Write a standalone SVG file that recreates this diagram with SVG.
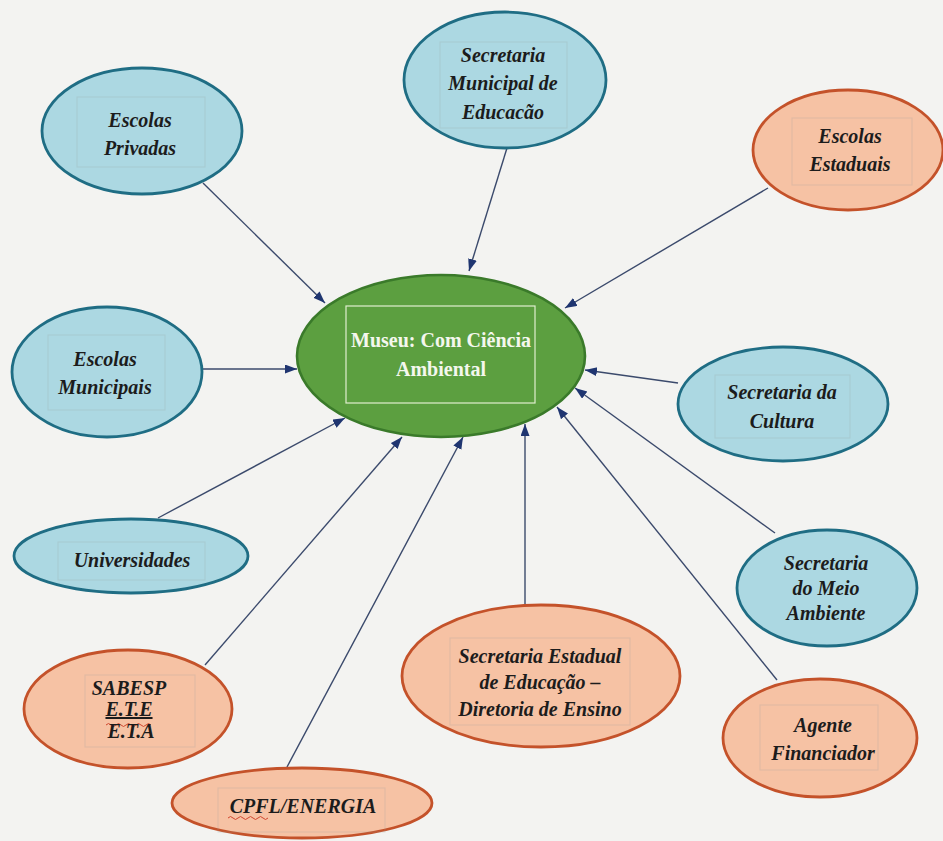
<svg xmlns="http://www.w3.org/2000/svg" width="943" height="841" viewBox="0 0 943 841">
<style>
.bg{fill:#f3f3f1}
.blue{fill:#acd8e2;stroke:#1f6d84;stroke-width:2.8}
.orange{fill:#f6c2a4;stroke:#c4522a;stroke-width:2.8}
.green{fill:#5c9f40;stroke:#3a7a2a;stroke-width:2.6}
.box{fill:none;stroke:#9aa3a0;stroke-width:1;stroke-opacity:0.25}
.cbox{fill:none;stroke:#dfeecf;stroke-width:1.2}
.t{font-family:"Liberation Serif","Times New Roman",serif;font-style:italic;font-weight:bold;font-size:20px;fill:#1c1c1c;text-anchor:middle}
.ct{font-family:"Liberation Serif","Times New Roman",serif;font-weight:bold;font-size:20px;fill:#f4f7ee;text-anchor:middle}
.conn line{stroke:#3b4a6c;stroke-width:1.4;marker-end:url(#arr)}
.sq{fill:none;stroke:#d0472f;stroke-width:1}
</style>
<defs>
<marker id="arr" markerUnits="userSpaceOnUse" markerWidth="13" markerHeight="10" refX="12" refY="4.5" orient="auto">
<path d="M0,0 L12,4.5 L0,9 z" fill="#1f3570"/>
</marker>
</defs>
<rect class="bg" x="0" y="0" width="943" height="841"/>

<g id="connectors" class="conn">
<line x1="203" y1="183" x2="325" y2="303"/>
<line x1="507" y1="148" x2="469" y2="271"/>
<line x1="768" y1="188" x2="565" y2="308"/>
<line x1="202" y1="369" x2="297" y2="369"/>
<line x1="678" y1="383" x2="585" y2="370"/>
<line x1="775" y1="533" x2="575" y2="388"/>
<line x1="777" y1="680" x2="557" y2="407"/>
<line x1="525" y1="605" x2="525" y2="424"/>
<line x1="287" y1="767" x2="463" y2="437"/>
<line x1="205" y1="665" x2="402" y2="437"/>
<line x1="158" y1="518" x2="345" y2="418"/>
</g>

<g id="museu">
<ellipse class="green" cx="441" cy="356" rx="144" ry="81"/>
<rect class="cbox" x="346" y="306" width="189" height="97"/>
<text class="ct" x="441" y="347">Museu: Com Ciência</text>
<text class="ct" x="441" y="376">Ambiental</text>
</g>

<g id="escolas-privadas">
<ellipse class="blue" cx="142" cy="131" rx="100" ry="63"/>
<rect class="box" x="77" y="97" width="128" height="70"/>
<text class="t" x="140" y="127">Escolas</text>
<text class="t" x="140" y="155">Privadas</text>
</g>

<g id="sec-municipal">
<ellipse class="blue" cx="505" cy="80" rx="101" ry="68"/>
<rect class="box" x="440" y="42" width="127" height="86"/>
<text class="t" x="503" y="62">Secretaria</text>
<text class="t" x="503" y="90">Municipal de</text>
<text class="t" x="503" y="119">Educacão</text>
</g>

<g id="escolas-estaduais">
<ellipse class="orange" cx="848" cy="150" rx="95" ry="60"/>
<rect class="box" x="792" y="118" width="120" height="67"/>
<text class="t" x="850" y="143">Escolas</text>
<text class="t" x="850" y="171">Estaduais</text>
</g>

<g id="escolas-municipais">
<ellipse class="blue" cx="107" cy="372" rx="95" ry="65"/>
<rect class="box" x="48" y="335" width="117" height="75"/>
<text class="t" x="105" y="366">Escolas</text>
<text class="t" x="105" y="394">Municipais</text>
</g>

<g id="sec-cultura">
<ellipse class="blue" cx="783" cy="404" rx="105" ry="57"/>
<rect class="box" x="715" y="375" width="135" height="63"/>
<text class="t" x="782" y="399">Secretaria da</text>
<text class="t" x="782" y="428">Cultura</text>
</g>

<g id="universidades">
<ellipse class="blue" cx="131" cy="556" rx="117" ry="37"/>
<rect class="box" x="58" y="542" width="147" height="38"/>
<text class="t" x="132" y="567">Universidades</text>
</g>

<g id="sec-meio-ambiente">
<ellipse class="blue" cx="827" cy="588" rx="90" ry="58"/>
<text class="t" x="826" y="570">Secretaria</text>
<text class="t" x="826" y="595">do Meio</text>
<text class="t" x="826" y="620">Ambiente</text>
</g>

<g id="sabesp">
<ellipse class="orange" cx="128" cy="709" rx="104" ry="59"/>
<rect class="box" x="85" y="675" width="110" height="72"/>
<text class="t" x="129" y="695">SABESP</text>
<text class="t" x="129" y="716" text-decoration="underline">E.T.E</text>
<path class="sq" d="M106,725 q2.5,-3 5,0 t5,0 t5,0 t5,0 t5,0 t5,0 t5,0 t5,0 t5,0"/>
<text class="t" x="131" y="738">E.T.A</text>
</g>

<g id="cpfl">
<ellipse class="orange" cx="302" cy="803" rx="130" ry="35"/>
<rect class="box" x="218" y="788" width="167" height="44"/>
<text class="t" x="303" y="813">CPFL/ENERGIA</text>
<path class="sq" d="M228,818 q2.5,-3 5,0 t5,0 t5,0 t5,0 t5,0 t5,0 t5,0 t5,0"/>
</g>

<g id="sec-estadual">
<ellipse class="orange" cx="541" cy="676" rx="139" ry="71"/>
<rect class="box" x="450" y="638" width="180" height="87"/>
<text class="t" x="540" y="663">Secretaria Estadual</text>
<text class="t" x="540" y="689">de Educação –</text>
<text class="t" x="540" y="716">Diretoria de Ensino</text>
</g>

<g id="agente">
<ellipse class="orange" cx="820" cy="738" rx="97" ry="59"/>
<rect class="box" x="760" y="705" width="118" height="65"/>
<text class="t" x="823" y="732">Agente</text>
<text class="t" x="823" y="760">Financiador</text>
</g>
</svg>
